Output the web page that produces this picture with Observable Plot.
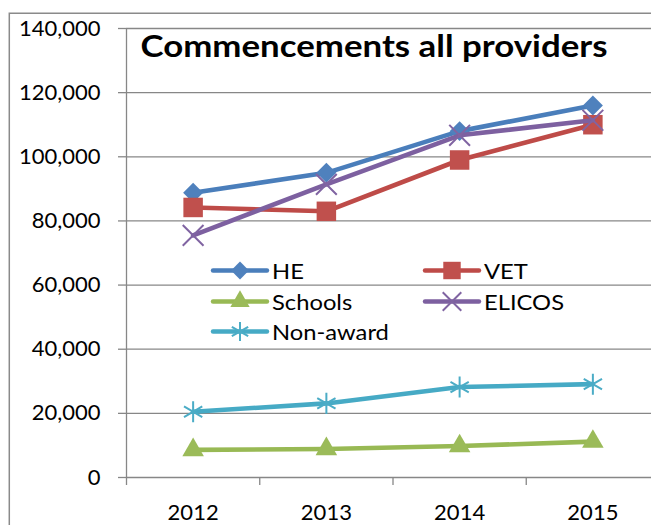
<!DOCTYPE html>
<html><head><meta charset="utf-8">
<script src="https://cdn.jsdelivr.net/npm/d3@7"></script>
<script src="https://cdn.jsdelivr.net/npm/@observablehq/plot@0.6"></script>
<style>
body{margin:0;background:#fff;}
#wrap{position:relative;width:651px;height:525px;overflow:hidden;font-family:Lato,sans-serif;background:#fff;}
#overlay{position:absolute;left:0;top:0;pointer-events:none;}
</style></head><body><div id="wrap"></div>
<script>
// ---- data ----
const titleText = "Commencements all providers";
const years = [2012, 2013, 2014, 2015];
const seriesNames = ["HE", "VET", "Schools", "ELICOS", "Non-award"];
const heValues = [88800, 95000, 108000, 116000];
const vetValues = [84200, 83000, 99000, 110000];
const schoolsValues = [8600, 8900, 9800, 11200];
const elicosValues = [75500, 91400, 106700, 111400];
const nonAwardValues = [20500, 23100, 28200, 29100];
const yTicks = [0, 20000, 40000, 60000, 80000, 100000, 120000, 140000];

// ---- styles ----
const seriesValues = [heValues, vetValues, schoolsValues, elicosValues, nonAwardValues];
const lineColors = ["#4A7EBB", "#BE4B48", "#98B954", "#7D60A0", "#46AAC5"];
const markColors = ["#4F81BD", "#C0504D", "#9BBB59", "#8064A2", "#4BACC6"];
const plotSymbols = ["diamond2", "square", "triangle", "times", "asterisk"];
const d3Symbols = [d3.symbolDiamond2, d3.symbolSquare, d3.symbolTriangle, d3.symbolTimes, d3.symbolAsterisk];
const symbolR = [9, 11, 8, 9.5, 10];
const strokeSym = [false, false, false, true, true];
const gridColor = "#878787";

const rows = seriesNames.flatMap((s, j) => years.map((yr, i) => ({series: s, year: yr, value: seriesValues[j][i]})));
const x0 = years[0] - 0.5, x1 = years[years.length - 1] + 0.5;
const boundaries = d3.range(x0, x1 + 0.01, 1);

const marks = [
  Plot.gridY(yTicks, {stroke: gridColor, strokeOpacity: 1, strokeWidth: 1.3}),
  Plot.ruleX([x0], {stroke: gridColor, strokeWidth: 1.3}),
  Plot.axisY(yTicks, {tickFormat: d3.format(","), tickSize: 8, tickPadding: 18, stroke: gridColor, fill: "black", label: null, strokeWidth: 1.3}),
  Plot.axisX(boundaries, {tickFormat: () => "", tickSize: 8, stroke: gridColor, label: null, strokeWidth: 1.3}),
  Plot.axisX(years, {tickFormat: d => String(d), tickSize: 0, tickPadding: 27, fill: "black", label: null})
];
seriesNames.forEach((s, j) => {
  const d = rows.filter(r => r.series === s);
  marks.push(Plot.line(d, {x: "year", y: "value", stroke: lineColors[j], strokeWidth: 4.6, strokeLinecap: "round", strokeLinejoin: "round"}));
  if (strokeSym[j]) {
    marks.push(Plot.dot(d, {x: "year", y: "value", symbol: plotSymbols[j], r: symbolR[j], stroke: markColors[j], strokeWidth: 2, fill: "none"}));
  } else {
    marks.push(Plot.dot(d, {x: "year", y: "value", symbol: plotSymbols[j], r: symbolR[j], fill: markColors[j], stroke: "none"}));
  }
});

const chart = Plot.plot({
  width: 651, height: 525,
  marginLeft: 126, marginTop: 28, marginBottom: 48, marginRight: -8,
  x: {type: "linear", domain: [x0, x1], label: null},
  y: {domain: [0, 140000], label: null},
  style: {fontFamily: "Lato, sans-serif", fontSize: "22px", color: "black", background: "white", overflow: "visible"},
  marks
});
const wrap = document.getElementById("wrap");
wrap.appendChild(chart);

// ---- overlay: border, title, legend ----
const ov = d3.select(wrap).append("svg").attr("id", "overlay").attr("width", 651).attr("height", 525)
  .style("font-family", "Lato, sans-serif");
ov.append("path").attr("d", "M9.3,525V13.3H651").attr("fill", "none").attr("stroke", "#8a8a8a").attr("stroke-width", 1.5);
ov.append("text").attr("x", 140.5).attr("y", 57).attr("font-size", 30).attr("font-weight", "bold").attr("fill", "black")
  .attr("textLength", 467).attr("lengthAdjust", "spacingAndGlyphs").text(titleText);

const legendCols = [213, 425];
const legendRows = [270.5, 301.5, 331.5];
seriesNames.forEach((s, j) => {
  const cx = legendCols[j % 2], cy = legendRows[Math.floor(j / 2)];
  const g = ov.append("g").attr("transform", `translate(${cx},${cy})`);
  g.append("line").attr("x1", 0).attr("x2", 54).attr("stroke", lineColors[j]).attr("stroke-width", 4.4).attr("stroke-linecap", "round");
  const p = g.append("path").attr("transform", "translate(27,0)")
    .attr("d", d3.symbol(d3Symbols[j], Math.PI * symbolR[j] * symbolR[j] * 0.8)());
  if (strokeSym[j]) p.attr("fill", "none").attr("stroke", markColors[j]).attr("stroke-width", 2);
  else p.attr("fill", markColors[j]);
  const t = g.append("text").attr("x", 59).attr("y", 8).attr("font-size", 22).attr("fill", "black").text(s);
  const len = t.node().getComputedTextLength();
  if (len > 0) t.attr("textLength", len * 1.08).attr("lengthAdjust", "spacingAndGlyphs");
});
</script></body></html>
